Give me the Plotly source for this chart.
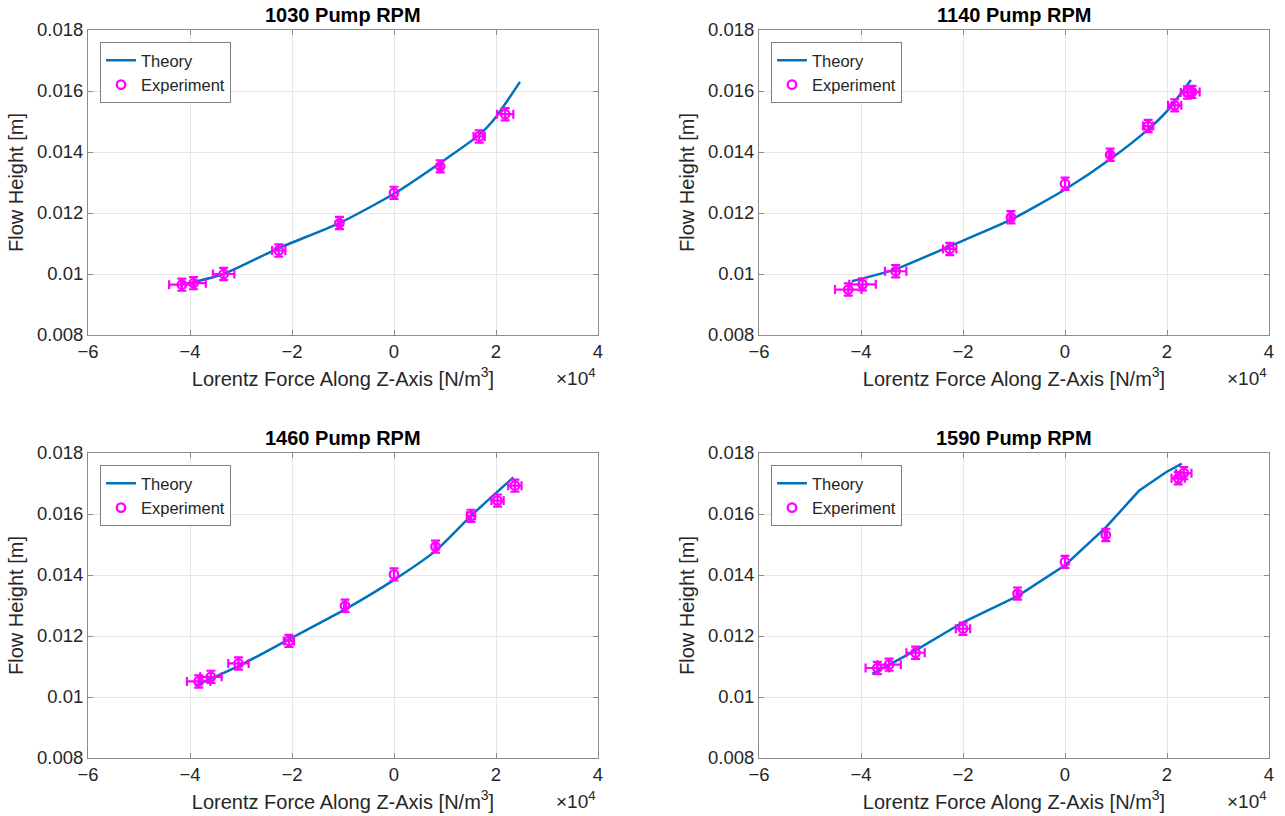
import plotly.graph_objects as go

# ---------------- data (x in units of 1e4 N/m^3) ----------------
titles = ["1030 Pump RPM", "1140 Pump RPM", "1460 Pump RPM", "1590 Pump RPM"]

th1_x = [-4.02, -3.34, -2.26, -1.07, 0.0, 0.905, 1.67, 2.0, 2.47]
th1_y = [0.0097, 0.0100, 0.01085, 0.01167, 0.01263, 0.01364, 0.01456, 0.01515, 0.0163]
ex1_x = [-4.16, -3.93, -3.34, -2.26, -1.07, 0.0, 0.905, 1.67, 2.18]
ex1_y = [0.00965, 0.0097, 0.0100, 0.01077, 0.01167, 0.01266, 0.01353, 0.01451, 0.01524]
ex1_xe = [0.25, 0.24, 0.21, 0.13, 0.03, 0.0, 0.03, 0.11, 0.16]
ex1_ye = [0.0002, 0.0002, 0.0002, 0.0002, 0.0002, 0.0002, 0.0002, 0.0002, 0.0002]

th2_x = [-4.18, -3.32, -2.26, -1.06, 0.0, 0.885, 1.63, 2.0, 2.47]
th2_y = [0.00976, 0.01016, 0.01091, 0.01178, 0.01277, 0.01376, 0.01474, 0.01534, 0.01636]
ex2_x = [-4.25, -3.97, -3.32, -2.26, -1.06, 0.0, 0.885, 1.63, 2.15, 2.40, 2.49]
ex2_y = [0.00949, 0.00966, 0.01009, 0.01082, 0.01186, 0.01296, 0.01391, 0.01485, 0.01553, 0.01595, 0.01597]
ex2_xe = [0.26, 0.26, 0.21, 0.13, 0.03, 0.0, 0.03, 0.10, 0.13, 0.13, 0.15]
ex2_ye = [0.0002, 0.0002, 0.0002, 0.0002, 0.0002, 0.0002, 0.0002, 0.0002, 0.0002, 0.0002, 0.0002]

th3_x = [-3.90, -3.05, -2.06, -0.96, 0.0, 0.814, 1.51, 2.34]
th3_y = [0.01037, 0.01101, 0.01189, 0.01287, 0.01384, 0.01479, 0.01594, 0.0172]
ex3_x = [-3.83, -3.59, -3.05, -2.06, -0.96, 0.0, 0.814, 1.51, 2.03, 2.37]
ex3_y = [0.01051, 0.01066, 0.0111, 0.01184, 0.01299, 0.01402, 0.01493, 0.01594, 0.01644, 0.01693]
ex3_xe = [0.23, 0.21, 0.20, 0.10, 0.02, 0.0, 0.02, 0.08, 0.12, 0.13]
ex3_ye = [0.0002, 0.0002, 0.0002, 0.0002, 0.0002, 0.0002, 0.0002, 0.0002, 0.0002, 0.0002]

th4_x = [-3.78, -2.93, -2.0, -0.93, 0.0, 0.80, 1.45, 1.98, 2.29]
th4_y = [0.01076, 0.01153, 0.01245, 0.01331, 0.01432, 0.01556, 0.01676, 0.01737, 0.01765]
ex4_x = [-3.68, -3.45, -2.93, -2.0, -0.93, 0.0, 0.80, 2.22, 2.33]
ex4_y = [0.01095, 0.01106, 0.01145, 0.01224, 0.01339, 0.01443, 0.01531, 0.01717, 0.01734]
ex4_xe = [0.23, 0.23, 0.18, 0.14, 0.02, 0.0, 0.02, 0.13, 0.15]
ex4_ye = [0.0002, 0.0002, 0.0002, 0.0002, 0.0002, 0.0002, 0.0002, 0.0002, 0.0002]

x_ticks = [-6, -4, -2, 0, 2, 4]
y_ticks = [0.008, 0.01, 0.012, 0.014, 0.016, 0.018]

theory = [(th1_x, th1_y), (th2_x, th2_y), (th3_x, th3_y), (th4_x, th4_y)]
exper = [(ex1_x, ex1_y, ex1_xe, ex1_ye), (ex2_x, ex2_y, ex2_xe, ex2_ye),
         (ex3_x, ex3_y, ex3_xe, ex3_ye), (ex4_x, ex4_y, ex4_xe, ex4_ye)]
line_shapes = ["spline", "spline", "spline", "linear"]

# ---------------- layout ----------------
W, H = 1285, 816
FONT = "Liberation Sans, Arial, Helvetica, sans-serif"
TXT = "#262626"
AX = "#8c8c8c"
BLUE = "#0072BD"
MAG = "#FF00FF"

xdom = [[88 / W, 598 / W], [759 / W, 1269 / W]]
ydom = [[1 - 335 / H, 1 - 30 / H], [1 - 758 / H, 1 - 453 / H]]

fig = go.Figure()
layout = dict(width=W, height=H, margin=dict(l=0, r=0, t=0, b=0, autoexpand=False),
              paper_bgcolor="white", plot_bgcolor="white",
              font=dict(family=FONT, color=TXT, size=17), annotations=[])

for i in range(4):
    r, c = divmod(i, 2)
    n = i + 1
    xa = "x" if n == 1 else f"x{n}"
    ya = "y" if n == 1 else f"y{n}"
    lg = "legend" if n == 1 else f"legend{n}"
    tx, ty = theory[i]
    ex, ey, exe, eye = exper[i]
    fig.add_trace(go.Scatter(x=tx, y=ty, mode="lines", name="Theory",
                             line=dict(color=BLUE, width=2.5, shape=line_shapes[i], smoothing=0.6),
                             xaxis=xa, yaxis=ya, legend=lg))
    fig.add_trace(go.Scatter(x=ex, y=ey, mode="markers", name="Experiment",
                             marker=dict(symbol="circle-open", color=MAG, size=8.5,
                                         line=dict(color=MAG, width=2.3)),
                             error_x=dict(type="data", array=exe, color=MAG, thickness=2.2, width=4.5),
                             error_y=dict(type="data", array=eye, color=MAG, thickness=2.2, width=4.5),
                             xaxis=xa, yaxis=ya, legend=lg))
    axcommon = dict(showline=True, linecolor=AX, linewidth=1, mirror="ticks",
                    ticks="inside", ticklen=5, tickcolor=AX, automargin=False,
                    showgrid=True, gridcolor="#e6e6e6", gridwidth=1,
                    zeroline=False, tickfont=dict(size=18.5, color=TXT, family=FONT))
    layout["xaxis" if n == 1 else f"xaxis{n}"] = dict(
        axcommon, domain=xdom[c], range=[-6, 4], tickvals=x_ticks,
        anchor=ya,
        title=dict(text="Lorentz Force Along Z-Axis [N/m<sup>3</sup>]",
                   font=dict(size=20, color=TXT, family=FONT), standoff=10))
    layout["yaxis" if n == 1 else f"yaxis{n}"] = dict(
        axcommon, domain=ydom[r], range=[0.008, 0.018], tickvals=y_ticks,
        anchor=xa,
        title=dict(text="Flow Height [m]",
                   font=dict(size=20, color=TXT, family=FONT), standoff=8))
    lx = (100 if c == 0 else 771) / W
    ly = 1 - (42 if r == 0 else 465) / H
    layout[lg] = dict(x=lx, y=ly, xanchor="left", yanchor="top",
                      bgcolor="white", bordercolor="#7f7f7f", borderwidth=1,
                      font=dict(size=16.5, color=TXT, family=FONT),
                      tracegroupgap=0, itemwidth=30)
    # subplot title
    layout["annotations"].append(dict(
        text=f"<b>{titles[i]}</b>", xref="paper", yref="paper",
        x=(xdom[c][0] + xdom[c][1]) / 2, y=1 - (15 if r == 0 else 438) / H,
        xanchor="center", yanchor="middle", showarrow=False,
        font=dict(size=20, color="black", family=FONT)))
    # exponent label
    layout["annotations"].append(dict(
        text="\u00d710<sup>4</sup>", xref="paper", yref="paper",
        x=xdom[c][1], y=1 - (377 if r == 0 else 800) / H,
        xanchor="right", yanchor="middle", showarrow=False,
        font=dict(size=19, color=TXT, family=FONT)))

fig.update_layout(**layout)
fig.write_html("out.html")
